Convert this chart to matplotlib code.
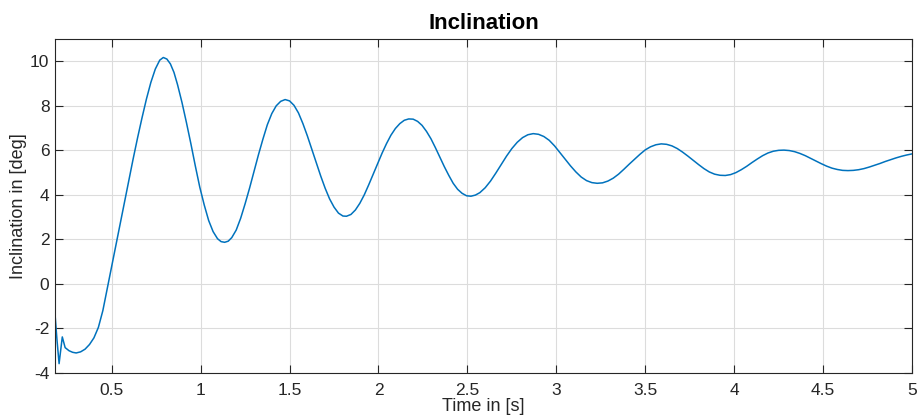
import matplotlib
matplotlib.use("Agg")
import matplotlib.pyplot as plt

plt.rcParams['font.family'] = ['Liberation Sans', 'DejaVu Sans']

time_s = [0.181, 0.192, 0.204, 0.222, 0.238, 0.26, 0.28, 0.30, 0.325, 0.35, 0.375, 0.40, 0.425, 0.45,
          0.48, 0.50, 0.52, 0.545, 0.57, 0.595, 0.62, 0.645, 0.67, 0.695, 0.72, 0.745, 0.77, 0.79,
          0.81, 0.83, 0.85, 0.87, 0.895, 0.92, 0.945, 0.97, 0.995, 1.02, 1.045, 1.07, 1.095, 1.115,
          1.135, 1.155, 1.175, 1.2, 1.225, 1.25, 1.275, 1.3, 1.325, 1.35, 1.375, 1.4, 1.425, 1.45,
          1.475, 1.5, 1.525, 1.55, 1.575, 1.6, 1.625, 1.65, 1.675, 1.7, 1.725, 1.75, 1.775, 1.8,
          1.82, 1.845, 1.87, 1.895, 1.92, 1.945, 1.97, 1.995, 2.02, 2.045, 2.07, 2.095, 2.12, 2.145,
          2.17, 2.195, 2.22, 2.245, 2.27, 2.295, 2.32, 2.345, 2.37, 2.395, 2.42, 2.445, 2.47, 2.495,
          2.52, 2.545, 2.57, 2.6, 2.63, 2.66, 2.69, 2.72, 2.75, 2.78, 2.81, 2.84, 2.87, 2.9,
          2.93, 2.96, 2.99, 3.02, 3.05, 3.08, 3.11, 3.14, 3.17, 3.2, 3.23, 3.26, 3.29, 3.32,
          3.35, 3.38, 3.41, 3.44, 3.47, 3.5, 3.53, 3.56, 3.59, 3.62, 3.65, 3.68, 3.71, 3.74,
          3.77, 3.8, 3.83, 3.86, 3.89, 3.92, 3.95, 3.98, 4.01, 4.04, 4.07, 4.1, 4.13, 4.16,
          4.19, 4.22, 4.25, 4.28, 4.31, 4.34, 4.37, 4.4, 4.43, 4.46, 4.49, 4.52, 4.55, 4.58,
          4.61, 4.64, 4.67, 4.7, 4.73, 4.76, 4.79, 4.82, 4.85, 4.88, 4.91, 4.94, 4.97, 5.0]
inclination_deg = [-1.35, -2.5, -3.58, -2.38, -2.86, -3.0, -3.07, -3.1, -3.05, -2.93, -2.72, -2.42, -1.95, -1.2,
                   0.0, 0.8, 1.6, 2.6, 3.6, 4.6, 5.6, 6.55, 7.45, 8.3, 9.05, 9.65, 10.05, 10.17,
                   10.1, 9.88, 9.5, 8.95, 8.15, 7.25, 6.3, 5.3, 4.35, 3.55, 2.85, 2.35, 2.03, 1.9,
                   1.87, 1.92, 2.08, 2.42, 2.95, 3.6, 4.3, 5.05, 5.8, 6.5, 7.15, 7.65, 8.0, 8.2,
                   8.28, 8.22, 8.02, 7.68, 7.2, 6.65, 6.05, 5.45, 4.85, 4.3, 3.82, 3.45, 3.18, 3.05,
                   3.04, 3.12, 3.32, 3.62, 4.0, 4.45, 4.92, 5.4, 5.87, 6.3, 6.68, 6.98, 7.2, 7.35,
                   7.41, 7.4, 7.3, 7.12, 6.85, 6.52, 6.12, 5.7, 5.27, 4.88, 4.52, 4.25, 4.07, 3.96,
                   3.94, 3.99, 4.1, 4.32, 4.62, 4.98, 5.36, 5.74, 6.08, 6.36, 6.57, 6.7, 6.75, 6.72,
                   6.62, 6.45, 6.2, 5.9, 5.6, 5.3, 5.03, 4.8, 4.64, 4.55, 4.52, 4.54, 4.62, 4.75,
                   4.93, 5.15, 5.38, 5.6, 5.82, 6.02, 6.16, 6.25, 6.29, 6.27, 6.2, 6.08, 5.92, 5.74,
                   5.55, 5.36, 5.18, 5.03, 4.93, 4.88, 4.87, 4.91, 5.0, 5.13, 5.28, 5.45, 5.61, 5.76,
                   5.88, 5.96, 6.0, 6.01, 5.99, 5.94, 5.86, 5.76, 5.64, 5.52, 5.4, 5.29, 5.2, 5.14,
                   5.1, 5.09, 5.1, 5.13, 5.18, 5.25, 5.33, 5.41, 5.5, 5.58, 5.66, 5.73, 5.79, 5.84]

x_ticks = [0.5, 1, 1.5, 2, 2.5, 3, 3.5, 4, 4.5, 5]
x_tick_labels = ['0.5', '1', '1.5', '2', '2.5', '3', '3.5', '4', '4.5', '5']
y_ticks = [-4, -2, 0, 2, 4, 6, 8, 10]
y_tick_labels = ['-4', '-2', '0', '2', '4', '6', '8', '10']

fig = plt.figure(figsize=(9.2, 4.17), dpi=100)
ax = fig.add_axes([55/920, 44/417, 857/920, 334/417])
ax.plot(time_s, inclination_deg, color='#0072BD', lw=1.1)
ax.set_xlim(0.181, 5)
ax.set_ylim(-4, 11)
ax.set_xticks(x_ticks)
ax.set_xticklabels(x_tick_labels)
ax.set_yticks(y_ticks)
ax.set_yticklabels(y_tick_labels)
ax.grid(True, color='#dcdcdc', lw=0.8)
ax.set_axisbelow(True)
ax.tick_params(direction='in', length=6, width=0.8, top=True, right=True,
               labelsize=12.5, colors='#262626')
ax.tick_params(axis='x', pad=7)
ax.tick_params(axis='y', pad=4)
for s in ax.spines.values():
    s.set_color('#262626')
    s.set_linewidth(0.8)
ax.set_title('Inclination', fontsize=16, fontweight='bold', pad=7)
ax.set_xlabel('Time in [s]', fontsize=13, labelpad=0, color='#262626')
ax.set_ylabel('Inclination in [deg]', fontsize=13, labelpad=2, color='#262626')
fig.savefig('out.png', dpi=100)
